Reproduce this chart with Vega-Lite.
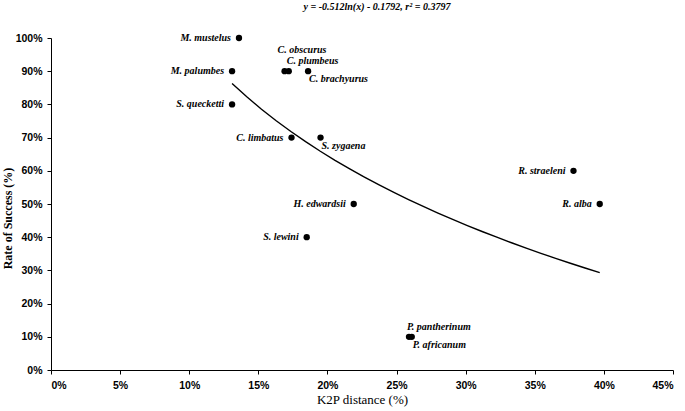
{
  "$schema": "https://vega.github.io/schema/vega-lite/v6.json",
  "width": 622,
  "height": 332,
  "autosize": {"type": "none"},
  "padding": {"left": 51, "top": 38, "right": 12, "bottom": 41},
  "background": "white",
  "title": {
    "text": "y = -0.512ln(x) - 0.1792, r² = 0.3797",
    "font": "Liberation Serif",
    "fontSize": 10,
    "fontStyle": "italic",
    "fontWeight": "bold",
    "color": "black",
    "offset": 21,
    "dx": 15
  },
  "config": {
    "view": {"stroke": null},
    "axis": {
      "grid": false,
      "domainColor": "black",
      "domainWidth": 1,
      "tickColor": "black",
      "tickSize": 4,
      "labelColor": "black",
      "labelFont": "Liberation Sans",
      "labelFontWeight": "bold",
      "labelFontSize": 10.5,
      "titleColor": "black",
      "titleFont": "Liberation Serif",
      "titleFontWeight": "bold",
      "titleFontSize": 12
    }
  },
  "data": {
    "values": [
      {"species": "M. mustelus", "k2p": 0.136, "success": 1.0},
      {"species": "M. palumbes", "k2p": 0.131, "success": 0.9},
      {"species": "S. quecketti", "k2p": 0.131, "success": 0.8},
      {"species": "C. obscurus", "k2p": 0.169, "success": 0.9},
      {"species": "C. plumbeus", "k2p": 0.172, "success": 0.9},
      {"species": "C. brachyurus", "k2p": 0.186, "success": 0.9},
      {"species": "C. limbatus", "k2p": 0.174, "success": 0.7},
      {"species": "S. zygaena", "k2p": 0.195, "success": 0.7},
      {"species": "H. edwardsii", "k2p": 0.219, "success": 0.5},
      {"species": "S. lewini", "k2p": 0.185, "success": 0.4},
      {"species": "P. pantherinum", "k2p": 0.259, "success": 0.1},
      {"species": "P. africanum", "k2p": 0.261, "success": 0.1},
      {"species": "R. straeleni", "k2p": 0.378, "success": 0.6},
      {"species": "R. alba", "k2p": 0.397, "success": 0.5}
    ]
  },
  "encoding": {
    "x": {
      "field": "k2p",
      "type": "quantitative",
      "scale": {"domain": [0, 0.45], "nice": false, "zero": true},
      "axis": {
        "title": "K2P distance (%)",
        "values": [0, 0.05, 0.1, 0.15, 0.2, 0.25, 0.3, 0.35, 0.4, 0.45],
        "format": ".0%",
        "labelPadding": 6,
        "titlePadding": 3,
        "titleFontWeight": "normal",
        "titleFontSize": 13
      }
    },
    "y": {
      "field": "success",
      "type": "quantitative",
      "scale": {"domain": [0, 1], "nice": false},
      "axis": {
        "title": "Rate of Success (%)",
        "values": [0, 0.1, 0.2, 0.3, 0.4, 0.5, 0.6, 0.7, 0.8, 0.9, 1.0],
        "format": ".0%",
        "labelPadding": 5,
        "titleAngle": -90,
        "titleAlign": "center",
        "titleBaseline": "bottom",
        "titleX": -37,
        "titleY": 180
      }
    }
  },
  "layer": [
    {
      "transform": [{"regression": "success", "on": "k2p", "method": "log"}],
      "mark": {"type": "line", "color": "black", "strokeWidth": 1.4}
    },
    {
      "mark": {"type": "circle", "size": 40, "color": "black", "opacity": 1}
    },
    {
      "transform": [{"filter": {"field": "species", "oneOf": ["M. mustelus", "M. palumbes", "S. quecketti", "C. limbatus", "H. edwardsii", "S. lewini", "R. straeleni", "R. alba"]}}],
      "mark": {"type": "text", "align": "right", "baseline": "middle", "dx": -8, "dy": 0, "font": "Liberation Serif", "fontStyle": "italic", "fontWeight": "bold", "fontSize": 10, "color": "black"},
      "encoding": {"text": {"field": "species"}}
    },
    {
      "transform": [{"filter": {"field": "species", "oneOf": ["C. plumbeus", "P. pantherinum"]}}],
      "mark": {"type": "text", "align": "left", "baseline": "middle", "dx": -2, "dy": -10, "font": "Liberation Serif", "fontStyle": "italic", "fontWeight": "bold", "fontSize": 10, "color": "black"},
      "encoding": {"text": {"field": "species"}}
    },
    {
      "transform": [{"filter": {"field": "species", "oneOf": ["C. brachyurus", "S. zygaena", "P. africanum"]}}],
      "mark": {"type": "text", "align": "left", "baseline": "middle", "dx": 1, "dy": 8, "font": "Liberation Serif", "fontStyle": "italic", "fontWeight": "bold", "fontSize": 10, "color": "black"},
      "encoding": {"text": {"field": "species"}}
    },
    {
      "transform": [{"filter": {"field": "species", "oneOf": ["C. obscurus"]}}],
      "mark": {"type": "text", "align": "left", "baseline": "middle", "dx": -7, "dy": -21, "font": "Liberation Serif", "fontStyle": "italic", "fontWeight": "bold", "fontSize": 10, "color": "black"},
      "encoding": {"text": {"field": "species"}}
    }
  ]
}
